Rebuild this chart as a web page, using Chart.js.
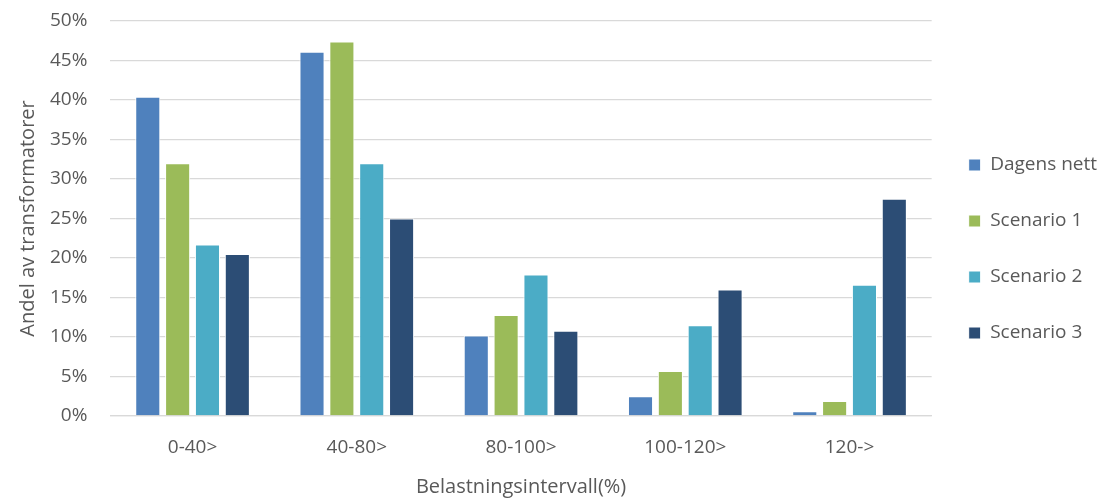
<!DOCTYPE html>
<html>
<head>
<meta charset="utf-8">
<script src="https://cdn.jsdelivr.net/npm/chart.js@4.4.1/dist/chart.umd.min.js"></script>
<style>
  html, body { margin: 0; padding: 0; background: #fff; }
  #wrap { width: 1115px; height: 499px; }
</style>
</head>
<body>
<div id="wrap"><canvas id="chart"></canvas></div>
<script>
// Andel transformatorer per belastningsintervall
const categories = ['0-40>', '40-80>', '80-100>', '100-120>', '120->'];
const dagensNett = [40.4, 46.1, 10.2, 2.5, 0.6];
const scenario1 = [32.0, 47.4, 12.8, 5.7, 1.9];
const scenario2 = [21.7, 32.0, 17.9, 11.5, 16.6];
const scenario3 = [20.5, 25.0, 10.8, 16.0, 27.5];
const seriesNames = ['Dagens nett', 'Scenario 1', 'Scenario 2', 'Scenario 3'];

const colors = ['#4f81bd', '#9bbb59', '#4bacc6', '#2c4d75'];
const textColor = '#595959';
const fontFamily = '"Open Sans", sans-serif';

const datasets = [dagensNett, scenario1, scenario2, scenario3].map((vals, i) => ({
  label: seriesNames[i],
  data: vals,
  backgroundColor: colors[i],
  borderColor: '#ffffff',
  borderWidth: 1,
  categoryPercentage: 0.727,
  barPercentage: 0.84,
}));

new Chart(document.getElementById('chart'), {
  type: 'bar',
  data: { labels: categories, datasets },
  options: {
    responsive: true,
    maintainAspectRatio: false,
    animation: false,
    // bottom padding lifts the legend; the x title is pushed back down below
    layout: { padding: { top: 21, right: 8, bottom: 22, left: 16 } },
    plugins: {
      tooltip: { enabled: false },
      legend: {
        position: 'right',
        labels: {
          color: textColor,
          font: { family: fontFamily, size: 19 },
          boxWidth: 12,
          boxHeight: 12,
          padding: 37,
          useBorderRadius: false,
        },
      },
    },
    scales: {
      x: {
        grid: { display: false, drawTicks: false },
        border: { display: true, color: '#d9d9d9', width: 1.3 },
        ticks: { color: textColor, font: { family: fontFamily, size: 19 }, padding: 20 },
        title: {
          display: true,
          text: 'Belastningsintervall(%)',
          color: textColor,
          font: { family: fontFamily, size: 20 },
          padding: { top: 0, bottom: -22 },
        },
        afterFit: scale => { scale.height = 61; },
      },
      y: {
        min: 0,
        max: 50,
        // transparent tick marks give the gap between labels and plot
        grid: { color: '#d9d9d9', lineWidth: 1.3, drawTicks: true, tickLength: 23, tickColor: 'rgba(0,0,0,0)' },
        border: { display: false },
        ticks: {
          stepSize: 5,
          color: textColor,
          font: { family: fontFamily, size: 19 },
          padding: 0,
          callback: v => v + '%',
        },
        title: {
          display: true,
          text: 'Andel av transformatorer',
          color: textColor,
          font: { family: fontFamily, size: 20 },
          padding: { top: 0, bottom: 10 },
        },
      },
    },
  },
});
</script>
</body>
</html>
